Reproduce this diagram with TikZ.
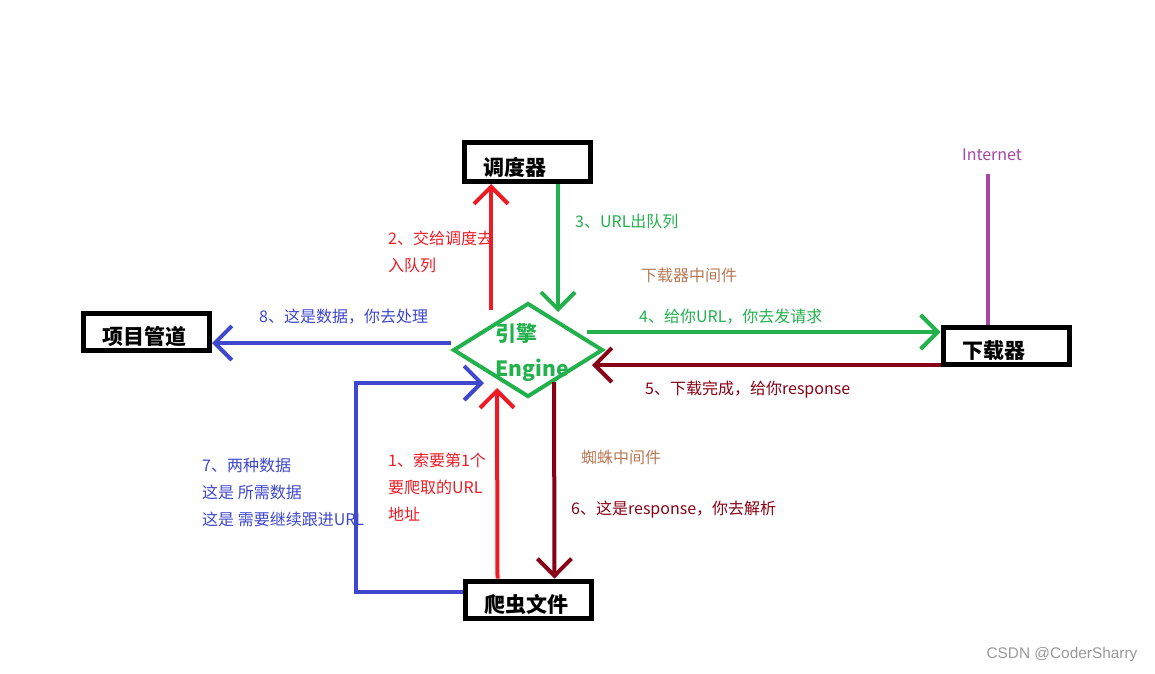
\documentclass[tikz,border=0pt]{standalone}
\usepackage{fontspec}
\setmainfont{Noto Sans CJK SC}
\newfontfamily\wmfont{Liberation Sans}
\usepackage{tikz}
\usetikzlibrary{arrows.meta,shapes.geometric,calc}

\definecolor{pgreen}{RGB}{34,177,76}
\definecolor{pred}{RGB}{237,28,36}
\definecolor{pdark}{RGB}{136,0,21}
\definecolor{pblue}{RGB}{63,72,204}
\definecolor{ppurple}{RGB}{163,73,164}
\definecolor{pbrown}{RGB}{185,122,87}

\begin{document}
\begin{tikzpicture}[x=1pt, y=-1pt,
    box/.style={draw, line width=5pt, minimum width=126pt, minimum height=37pt, text width=88pt, inner xsep=19pt, inner ysep=0pt, align=left, text height=26pt, text depth=0pt, font=\fontsize{21}{21}\selectfont\bfseries},
    engine/.style={diamond, draw=pgreen, line width=4pt, minimum width=150pt, minimum height=94pt, inner sep=0pt},
    engtext/.style={text=pgreen, align=left, inner sep=0pt, font=\fontsize{21}{35}\selectfont\bfseries},
    lbl/.style={anchor=west, align=left, inner sep=0pt, font=\fontsize{16}{27}\selectfont},
    arrow/.style={-{Straight Barb[length=17pt,width=34pt]}, line width=4pt}
]

\fill[white] (0,0) rectangle (1155,673);
\useasboundingbox (0,0) rectangle (1155,673);

\node[box, minimum height=39pt] (sched) at (527,162) {调度器};
\node[box] (pipe) at (146.5,331.5) {项目管道};
\node[box] (dl) at (1006,345.5) {下载器};
\node[box] (spider) at (528.5,599.5) {爬虫文件};
\node[engine] (engine) at (528,350) {};
\node[engtext] (engname) at (532,353) {引擎\\Engine};

\node[lbl, text=pred] (l2) at (388,251.5) {2、交给调度去\\入队列};
\node[lbl, text=pgreen] (l3) at (575,221) {3、URL出队列};
\node[lbl, text=pbrown] (dlmw) at (641,275) {下载器中间件};
\node[lbl, text=pgreen] (l4) at (639,317) {4、给你URL，你去发请求};
\node[lbl, text=pdark] (l5) at (645,390) {5、下载完成，给你response};
\node[lbl, text=pbrown] (spmw) at (581,457) {蜘蛛中间件};
\node[lbl, text=pdark] (l6) at (571,510) {6、这是response，你去解析};
\node[lbl, text=pred] (l1) at (388,487) {1、索要第1个\\要爬取的URL\\地址};
\node[lbl, text=pblue] (l7) at (202,492) {7、两种数据\\这是 所需数据\\这是 需要继续跟进URL};
\node[lbl, text=pblue] (l8) at (259,317) {8、这是数据，你去处理};
\node[lbl, anchor=center, text=ppurple] (inet) at (992,155) {Internet};
\node[anchor=center, inner sep=0pt, text=black!40, font=\fontsize{15.4}{16}\wmfont] (wm) at (1062,655) {CSDN @CoderSharry};

\coordinate (loop) at (356,383);

\draw[arrow, pred] ([xshift=-31pt]spider.north) -- ([shift={(-31,38)}]engine.center);
\draw[arrow, pred] ([shift={(-37,-40)}]engine.center) -- ([xshift=-36pt]sched.south);
\draw[arrow, pgreen] ([xshift=31pt]sched.south) -- ([shift={(30,-38)}]engine.center);
\draw[arrow, pgreen] ([shift={(59,-18)}]engine.center) -- ([yshift=13.5pt]dl.west);
\draw[arrow, pdark] ([yshift=-19.5pt]dl.west) -- ([shift={(64,15)}]engine.center);
\draw[arrow, pdark] ([shift={(26,32)}]engine.center) -- ([xshift=26pt]spider.north);
\draw[arrow, pblue] ([yshift=7.5pt]spider.west) -| (loop) -- ([shift={(-44,33)}]engine.center);
\draw[arrow, pblue] ([yshift=7pt]engine.west) -- ([yshift=-11.5pt]pipe.east);
\draw[line width=4pt, ppurple, shorten >=13pt] ([xshift=-18pt]dl.north) -- ([xshift=-18pt]dl.north |- inet.south);

\end{tikzpicture}
\end{document}
